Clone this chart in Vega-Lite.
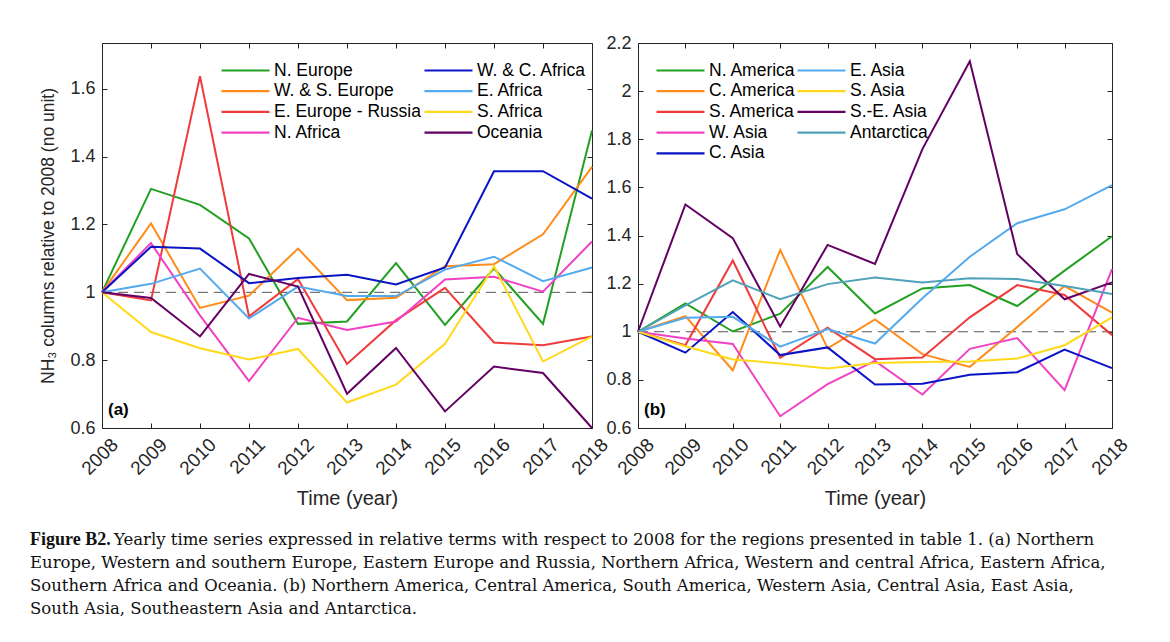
{
  "$schema": "https://vega.github.io/schema/vega-lite/v6.json",
  "background": "white",
  "padding": {"left": 30, "top": 33, "right": 5, "bottom": 5},
  "config": {
    "view": {"stroke": null},
    "font": "Liberation Sans",
    "axis": {"grid": false, "domain": false, "labelFont": "Liberation Sans", "titleFont": "Liberation Sans", "labelColor": "#262626", "titleColor": "#262626", "tickColor": "#262626", "titleFontWeight": "normal"},
    "legend": {"title": null, "columns": 2, "symbolType": "M-1,0L5,0", "symbolSize": 256, "symbolStrokeWidth": 2.2, "labelFontSize": 17.5, "labelFont": "Liberation Sans", "labelColor": "#000000", "rowPadding": 2.7, "padding": 0, "labelOffset": 35, "labelLimit": 300}
  },
  "datasets": {
    "a": [
      {"year":2008,"region":"N. Europe","value":1},{"year":2009,"region":"N. Europe","value":1.305},{"year":2010,"region":"N. Europe","value":1.258},{"year":2011,"region":"N. Europe","value":1.159},{"year":2012,"region":"N. Europe","value":0.907},{"year":2013,"region":"N. Europe","value":0.914},{"year":2014,"region":"N. Europe","value":1.086},{"year":2015,"region":"N. Europe","value":0.904},{"year":2016,"region":"N. Europe","value":1.071},{"year":2017,"region":"N. Europe","value":0.907},{"year":2018,"region":"N. Europe","value":1.477},
      {"year":2008,"region":"W. & S. Europe","value":1},{"year":2009,"region":"W. & S. Europe","value":1.203},{"year":2010,"region":"W. & S. Europe","value":0.954},{"year":2011,"region":"W. & S. Europe","value":0.99},{"year":2012,"region":"W. & S. Europe","value":1.129},{"year":2013,"region":"W. & S. Europe","value":0.977},{"year":2014,"region":"W. & S. Europe","value":0.984},{"year":2015,"region":"W. & S. Europe","value":1.077},{"year":2016,"region":"W. & S. Europe","value":1.083},{"year":2017,"region":"W. & S. Europe","value":1.171},{"year":2018,"region":"W. & S. Europe","value":1.37},
      {"year":2008,"region":"E. Europe - Russia","value":1},{"year":2009,"region":"E. Europe - Russia","value":0.976},{"year":2010,"region":"E. Europe - Russia","value":1.637},{"year":2011,"region":"E. Europe - Russia","value":0.929},{"year":2012,"region":"E. Europe - Russia","value":1.039},{"year":2013,"region":"E. Europe - Russia","value":0.789},{"year":2014,"region":"E. Europe - Russia","value":0.918},{"year":2015,"region":"E. Europe - Russia","value":1.013},{"year":2016,"region":"E. Europe - Russia","value":0.852},{"year":2017,"region":"E. Europe - Russia","value":0.844},{"year":2018,"region":"E. Europe - Russia","value":0.87},
      {"year":2008,"region":"N. Africa","value":1},{"year":2009,"region":"N. Africa","value":1.145},{"year":2010,"region":"N. Africa","value":0.932},{"year":2011,"region":"N. Africa","value":0.738},{"year":2012,"region":"N. Africa","value":0.925},{"year":2013,"region":"N. Africa","value":0.889},{"year":2014,"region":"N. Africa","value":0.914},{"year":2015,"region":"N. Africa","value":1.038},{"year":2016,"region":"N. Africa","value":1.046},{"year":2017,"region":"N. Africa","value":1.002},{"year":2018,"region":"N. Africa","value":1.15},
      {"year":2008,"region":"W. & C. Africa","value":1},{"year":2009,"region":"W. & C. Africa","value":1.134},{"year":2010,"region":"W. & C. Africa","value":1.129},{"year":2011,"region":"W. & C. Africa","value":1.027},{"year":2012,"region":"W. & C. Africa","value":1.042},{"year":2013,"region":"W. & C. Africa","value":1.052},{"year":2014,"region":"W. & C. Africa","value":1.023},{"year":2015,"region":"W. & C. Africa","value":1.073},{"year":2016,"region":"W. & C. Africa","value":1.357},{"year":2017,"region":"W. & C. Africa","value":1.357},{"year":2018,"region":"W. & C. Africa","value":1.276},
      {"year":2008,"region":"E. Africa","value":1},{"year":2009,"region":"E. Africa","value":1.025},{"year":2010,"region":"E. Africa","value":1.07},{"year":2011,"region":"E. Africa","value":0.923},{"year":2012,"region":"E. Africa","value":1.017},{"year":2013,"region":"E. Africa","value":0.989},{"year":2014,"region":"E. Africa","value":0.989},{"year":2015,"region":"E. Africa","value":1.067},{"year":2016,"region":"E. Africa","value":1.105},{"year":2017,"region":"E. Africa","value":1.033},{"year":2018,"region":"E. Africa","value":1.073},
      {"year":2008,"region":"S. Africa","value":1},{"year":2009,"region":"S. Africa","value":0.883},{"year":2010,"region":"S. Africa","value":0.835},{"year":2011,"region":"S. Africa","value":0.802},{"year":2012,"region":"S. Africa","value":0.833},{"year":2013,"region":"S. Africa","value":0.675},{"year":2014,"region":"S. Africa","value":0.728},{"year":2015,"region":"S. Africa","value":0.848},{"year":2016,"region":"S. Africa","value":1.077},{"year":2017,"region":"S. Africa","value":0.796},{"year":2018,"region":"S. Africa","value":0.87},
      {"year":2008,"region":"Oceania","value":1},{"year":2009,"region":"Oceania","value":0.983},{"year":2010,"region":"Oceania","value":0.87},{"year":2011,"region":"Oceania","value":1.054},{"year":2012,"region":"Oceania","value":1.017},{"year":2013,"region":"Oceania","value":0.701},{"year":2014,"region":"Oceania","value":0.836},{"year":2015,"region":"Oceania","value":0.649},{"year":2016,"region":"Oceania","value":0.781},{"year":2017,"region":"Oceania","value":0.762},{"year":2018,"region":"Oceania","value":0.6}
    ],
    "b": [
      {"year":2008,"region":"N. America","value":1},{"year":2009,"region":"N. America","value":1.118},{"year":2010,"region":"N. America","value":1.001},{"year":2011,"region":"N. America","value":1.075},{"year":2012,"region":"N. America","value":1.269},{"year":2013,"region":"N. America","value":1.076},{"year":2014,"region":"N. America","value":1.18},{"year":2015,"region":"N. America","value":1.194},{"year":2016,"region":"N. America","value":1.107},{"year":2017,"region":"N. America","value":1.254},{"year":2018,"region":"N. America","value":1.397},
      {"year":2008,"region":"C. America","value":1},{"year":2009,"region":"C. America","value":1.065},{"year":2010,"region":"C. America","value":0.84},{"year":2011,"region":"C. America","value":1.34},{"year":2012,"region":"C. America","value":0.931},{"year":2013,"region":"C. America","value":1.051},{"year":2014,"region":"C. America","value":0.907},{"year":2015,"region":"C. America","value":0.854},{"year":2016,"region":"C. America","value":1.02},{"year":2017,"region":"C. America","value":1.19},{"year":2018,"region":"C. America","value":1.079},
      {"year":2008,"region":"S. America","value":1},{"year":2009,"region":"S. America","value":0.944},{"year":2010,"region":"S. America","value":1.296},{"year":2011,"region":"S. America","value":0.892},{"year":2012,"region":"S. America","value":1.017},{"year":2013,"region":"S. America","value":0.886},{"year":2014,"region":"S. America","value":0.893},{"year":2015,"region":"S. America","value":1.06},{"year":2016,"region":"S. America","value":1.194},{"year":2017,"region":"S. America","value":1.153},{"year":2018,"region":"S. America","value":0.986},
      {"year":2008,"region":"W. Asia","value":1},{"year":2009,"region":"W. Asia","value":0.972},{"year":2010,"region":"W. Asia","value":0.949},{"year":2011,"region":"W. Asia","value":0.649},{"year":2012,"region":"W. Asia","value":0.782},{"year":2013,"region":"W. Asia","value":0.879},{"year":2014,"region":"W. Asia","value":0.739},{"year":2015,"region":"W. Asia","value":0.929},{"year":2016,"region":"W. Asia","value":0.974},{"year":2017,"region":"W. Asia","value":0.757},{"year":2018,"region":"W. Asia","value":1.26},
      {"year":2008,"region":"C. Asia","value":1},{"year":2009,"region":"C. Asia","value":0.913},{"year":2010,"region":"C. Asia","value":1.082},{"year":2011,"region":"C. Asia","value":0.903},{"year":2012,"region":"C. Asia","value":0.935},{"year":2013,"region":"C. Asia","value":0.781},{"year":2014,"region":"C. Asia","value":0.784},{"year":2015,"region":"C. Asia","value":0.821},{"year":2016,"region":"C. Asia","value":0.832},{"year":2017,"region":"C. Asia","value":0.926},{"year":2018,"region":"C. Asia","value":0.849},
      {"year":2008,"region":"E. Asia","value":1},{"year":2009,"region":"E. Asia","value":1.058},{"year":2010,"region":"E. Asia","value":1.062},{"year":2011,"region":"E. Asia","value":0.938},{"year":2012,"region":"E. Asia","value":1.011},{"year":2013,"region":"E. Asia","value":0.951},{"year":2014,"region":"E. Asia","value":1.139},{"year":2015,"region":"E. Asia","value":1.312},{"year":2016,"region":"E. Asia","value":1.451},{"year":2017,"region":"E. Asia","value":1.509},{"year":2018,"region":"E. Asia","value":1.609},
      {"year":2008,"region":"S. Asia","value":1},{"year":2009,"region":"S. Asia","value":0.94},{"year":2010,"region":"S. Asia","value":0.885},{"year":2011,"region":"S. Asia","value":0.868},{"year":2012,"region":"S. Asia","value":0.847},{"year":2013,"region":"S. Asia","value":0.87},{"year":2014,"region":"S. Asia","value":0.874},{"year":2015,"region":"S. Asia","value":0.876},{"year":2016,"region":"S. Asia","value":0.889},{"year":2017,"region":"S. Asia","value":0.944},{"year":2018,"region":"S. Asia","value":1.06},
      {"year":2008,"region":"S.-E. Asia","value":1},{"year":2009,"region":"S.-E. Asia","value":1.529},{"year":2010,"region":"S.-E. Asia","value":1.389},{"year":2011,"region":"S.-E. Asia","value":1.022},{"year":2012,"region":"S.-E. Asia","value":1.361},{"year":2013,"region":"S.-E. Asia","value":1.282},{"year":2014,"region":"S.-E. Asia","value":1.759},{"year":2015,"region":"S.-E. Asia","value":2.124},{"year":2016,"region":"S.-E. Asia","value":1.323},{"year":2017,"region":"S.-E. Asia","value":1.135},{"year":2018,"region":"S.-E. Asia","value":1.205},
      {"year":2008,"region":"Antarctica","value":1},{"year":2009,"region":"Antarctica","value":1.11},{"year":2010,"region":"Antarctica","value":1.214},{"year":2011,"region":"Antarctica","value":1.135},{"year":2012,"region":"Antarctica","value":1.198},{"year":2013,"region":"Antarctica","value":1.225},{"year":2014,"region":"Antarctica","value":1.205},{"year":2015,"region":"Antarctica","value":1.222},{"year":2016,"region":"Antarctica","value":1.219},{"year":2017,"region":"Antarctica","value":1.19},{"year":2018,"region":"Antarctica","value":1.157}
    ],
    "caption": [
      {"line":1,"part":"bold","text":"Figure B2."},
      {"line":1,"part":"rest","text":"Yearly time series expressed in relative terms with respect to 2008 for the regions presented in table 1. (a) Northern"},
      {"line":2,"part":"plain","text":"Europe, Western and southern Europe, Eastern Europe and Russia, Northern Africa, Western and central Africa, Eastern Africa,"},
      {"line":3,"part":"plain","text":"Southern Africa and Oceania. (b) Northern America, Central America, South America, Western Asia, Central Asia, East Asia,"},
      {"line":4,"part":"plain","text":"South Asia, Southeastern Asia and Antarctica."}
    ]
  },
  "vconcat": [
    {
      "hconcat": [
        {
          "width": 490,
          "height": 385,
          "view": {"stroke": "#262626", "strokeWidth": 1},
          "layer": [
            {
              "data": {"values": [{"ref": 1}]},
              "mark": {"type": "rule", "color": "#555555", "strokeWidth": 1, "strokeDash": [10, 6]},
              "encoding": {"y": {"field": "ref", "type": "quantitative", "axis": null}}
            },
            {
              "data": {"name": "a"},
              "mark": {"type": "line", "strokeWidth": 2},
              "encoding": {
                "x": {"field": "year", "type": "quantitative", "scale": {"domain": [2008, 2018], "nice": false, "zero": false},
                      "axis": {"orient": "bottom", "values": [2008,2009,2010,2011,2012,2013,2014,2015,2016,2017,2018], "format": "d", "labelAngle": -45, "labelFontSize": 19, "tickSize": -5, "labelPadding": 12, "labelOffset": 6, "title": "Time (year)", "titleFontSize": 20, "titlePadding": 10}},
                "y": {"field": "value", "type": "quantitative", "scale": {"domain": [0.6, 1.735], "nice": false, "zero": false},
                      "axis": {"orient": "left", "values": [0.6,0.8,1,1.2,1.4,1.6], "format": "~g", "labelFontSize": 18, "tickSize": -5, "labelPadding": 12, "title": "NH₃ columns relative to 2008 (no unit)", "titleFontSize": 17.5, "titlePadding": 12}},
                "color": {"field": "region", "type": "nominal",
                          "scale": {"domain": ["N. Europe","W. & S. Europe","E. Europe - Russia","N. Africa","W. & C. Africa","E. Africa","S. Africa","Oceania"],
                                    "range": ["#22a022","#ff8c1a","#ef3b3b","#f042c2","#0a14c4","#55aaee","#ffd91a","#640064"]},
                          "legend": {"orient": "none", "legendX": 118, "legendY": 18, "columnPadding": -1}}
              }
            },
            {
              "data": {"values": [{"label": "(a)", "x": 2008, "y": 0.6}]},
              "mark": {"type": "text", "align": "left", "baseline": "bottom", "dx": 6, "dy": -9, "fontSize": 17, "fontWeight": "bold", "color": "#000000"},
              "encoding": {"x": {"field": "x", "type": "quantitative", "axis": null}, "y": {"field": "y", "type": "quantitative", "axis": null}, "text": {"field": "label"}}
            },
            {
              "data": {"name": "a"},
              "mark": {"type": "line", "opacity": 0},
              "encoding": {
                "x": {"field": "year", "type": "quantitative", "axis": {"orient": "top", "values": [2008,2009,2010,2011,2012,2013,2014,2015,2016,2017,2018], "labels": false, "tickSize": -5, "title": null}},
                "y": {"field": "value", "type": "quantitative", "axis": {"orient": "right", "values": [0.6,0.8,1,1.2,1.4,1.6], "labels": false, "tickSize": -5, "title": null}},
                "detail": {"field": "region"}
              }
            }
          ],
          "resolve": {"axis": {"x": "independent", "y": "independent"}}
        },
        {
          "width": 474,
          "height": 385,
          "view": {"stroke": "#262626", "strokeWidth": 1},
          "layer": [
            {
              "data": {"values": [{"ref": 1}]},
              "mark": {"type": "rule", "color": "#555555", "strokeWidth": 1, "strokeDash": [10, 6]},
              "encoding": {"y": {"field": "ref", "type": "quantitative", "axis": null}}
            },
            {
              "data": {"name": "b"},
              "mark": {"type": "line", "strokeWidth": 2},
              "encoding": {
                "x": {"field": "year", "type": "quantitative", "scale": {"domain": [2008, 2018], "nice": false, "zero": false},
                      "axis": {"orient": "bottom", "values": [2008,2009,2010,2011,2012,2013,2014,2015,2016,2017,2018], "format": "d", "labelAngle": -45, "labelFontSize": 19, "tickSize": -5, "labelPadding": 12, "labelOffset": 6, "title": "Time (year)", "titleFontSize": 20, "titlePadding": 10}},
                "y": {"field": "value", "type": "quantitative", "scale": {"domain": [0.6, 2.2], "nice": false, "zero": false},
                      "axis": {"orient": "left", "values": [0.6,0.8,1,1.2,1.4,1.6,1.8,2,2.2], "format": "~g", "labelFontSize": 18, "tickSize": -5, "labelPadding": 12, "title": null}},
                "color": {"field": "region", "type": "nominal",
                          "scale": {"domain": ["N. America","C. America","S. America","W. Asia","C. Asia","E. Asia","S. Asia","S.-E. Asia","Antarctica"],
                                    "range": ["#22a022","#ff8c1a","#ef3b3b","#f042c2","#0a14c4","#55aaee","#ffd91a","#640064","#4fa2ba"]},
                          "legend": {"orient": "none", "legendX": 17, "legendY": 18, "columnPadding": -7}}
              }
            },
            {
              "data": {"values": [{"label": "(b)", "x": 2008, "y": 0.6}]},
              "mark": {"type": "text", "align": "left", "baseline": "bottom", "dx": 6, "dy": -9, "fontSize": 17, "fontWeight": "bold", "color": "#000000"},
              "encoding": {"x": {"field": "x", "type": "quantitative", "axis": null}, "y": {"field": "y", "type": "quantitative", "axis": null}, "text": {"field": "label"}}
            },
            {
              "data": {"name": "b"},
              "mark": {"type": "line", "opacity": 0},
              "encoding": {
                "x": {"field": "year", "type": "quantitative", "axis": {"orient": "top", "values": [2008,2009,2010,2011,2012,2013,2014,2015,2016,2017,2018], "labels": false, "tickSize": -5, "title": null}},
                "y": {"field": "value", "type": "quantitative", "axis": {"orient": "right", "values": [0.6,0.8,1,1.2,1.4,1.6,1.8,2,2.2], "labels": false, "tickSize": -5, "title": null}},
                "detail": {"field": "region"}
              }
            }
          ],
          "resolve": {"axis": {"x": "independent", "y": "independent"}}
        }
      ],
      "spacing": -7,
      "resolve": {"scale": {"color": "independent"}, "legend": {"color": "independent"}}
    },
    {
      "width": 1000,
      "height": 92,
      "data": {"name": "caption"},
      "layer": [
        {
          "transform": [{"filter": "datum.part == 'bold'"}],
          "mark": {"type": "text", "align": "left", "baseline": "middle", "font": "Liberation Serif", "fontSize": 18, "fontWeight": "bold", "color": "#111111", "dx": -72},
          "encoding": {"y": {"field": "line", "type": "ordinal", "axis": null, "scale": {"domain": [1,2,3,4]}}, "x": {"value": 0}, "text": {"field": "text"}}
        },
        {
          "transform": [{"filter": "datum.part == 'rest'"}],
          "mark": {"type": "text", "align": "left", "baseline": "middle", "font": "DejaVu Serif", "fontSize": 16.5, "color": "#111111", "dx": 12},
          "encoding": {"y": {"field": "line", "type": "ordinal", "axis": null}, "x": {"value": 0}, "text": {"field": "text"}}
        },
        {
          "transform": [{"filter": "datum.part == 'plain'"}],
          "mark": {"type": "text", "align": "left", "baseline": "middle", "font": "DejaVu Serif", "fontSize": 16.5, "color": "#111111", "dx": -72},
          "encoding": {"y": {"field": "line", "type": "ordinal", "axis": null}, "x": {"value": 0}, "text": {"field": "text"}}
        }
      ]
    }
  ],
  "spacing": 19,
  "resolve": {"scale": {"color": "independent"}, "legend": {"color": "independent"}}
}
